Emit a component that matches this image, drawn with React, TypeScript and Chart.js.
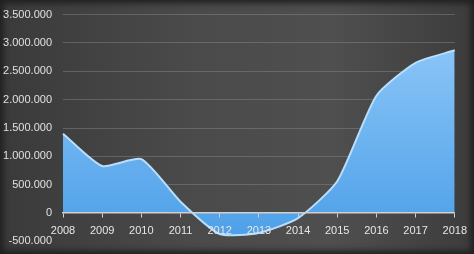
import React, { useEffect, useRef } from "react";
import { Chart, registerables } from "chart.js";

Chart.register(...registerables);

const years = ["2008", "2009", "2010", "2011", "2012", "2013", "2014", "2015", "2016", "2017", "2018"];
const values = [1400000, 830000, 950000, 200000, -370000, -350000, -90000, 560000, 2070000, 2650000, 2870000];
const yMin = -500000;
const yMax = 3500000;
const yStep = 500000;

const fmt = (v: number) => {
  const s = Math.abs(v).toString().replace(/\B(?=(\d{3})+(?!\d))/g, ".");
  return (v < 0 ? "-" : "") + s;
};

export default function App() {
  const ref = useRef<HTMLCanvasElement>(null);
  useEffect(() => {
    document.body.style.margin = "0";
    const ctx = ref.current!.getContext("2d")!;
    const chart = new Chart(ctx, {
      type: "line",
      data: {
        labels: years,
        datasets: [
          {
            data: values,
            fill: "origin",
            tension: 0.2,
            borderColor: "#b9defc",
            borderWidth: 2,
            pointRadius: 0,
            backgroundColor: (c: any) => {
              const area = c.chart.chartArea;
              if (!area) return "#5aaaf0";
              const g = c.chart.ctx.createLinearGradient(0, area.top, 0, area.bottom);
              g.addColorStop(0, "#94cbf9");
              g.addColorStop(1, "#4c9fe8");
              return g;
            },
          },
        ],
      },
      options: {
        animation: false,
        responsive: false,
        maintainAspectRatio: false,
        layout: { padding: { left: 0, right: 19, top: 5, bottom: 4 } },
        plugins: { legend: { display: false }, tooltip: { enabled: false } },
        scales: {
          x: {
            position: { y: 0 } as any,
            offset: false,
            grid: { display: true, drawOnChartArea: false, drawTicks: true, tickLength: 4, tickColor: "#d0d0d0", z: 1 },
            border: { display: true, color: "#d0d0d0", width: 1.5, z: 1 },
            ticks: { z: 1, color: "#e6e6e6", font: { family: "Liberation Sans", size: 11 }, padding: 7, maxRotation: 0, autoSkip: false },
          },
          y: {
            min: yMin,
            max: yMax,
            afterFit: (s: any) => { s.width = 63; },
            grid: {
              color: (c: any) => (c.tick && c.tick.value > 0 ? "rgba(140,140,140,0.45)" : "rgba(0,0,0,0)"),
              drawTicks: false,
            },
            border: { display: false },
            ticks: {
              stepSize: yStep,
              color: "#e0e0e0",
              font: { family: "Liberation Sans", size: 11 },
              padding: 11,
              callback: (v: any) => fmt(Number(v)),
            },
          },
        },
      },
    });
    return () => chart.destroy();
  }, []);
  return (
    <div
      style={{
        width: 474,
        height: 254,
        background: "linear-gradient(90deg, #3a3a3a 0%, #4a4a4a 40%, #4f4f4f 70%, #3c3c3c 100%)",
        boxShadow: "inset 0 0 6px 3px #1e1e1e",
        position: "relative",
        overflow: "hidden",
      }}
    >
      <canvas ref={ref} width={474} height={262} style={{ display: "block", position: "absolute", left: 0, top: -3 }} />
    </div>
  );
}
